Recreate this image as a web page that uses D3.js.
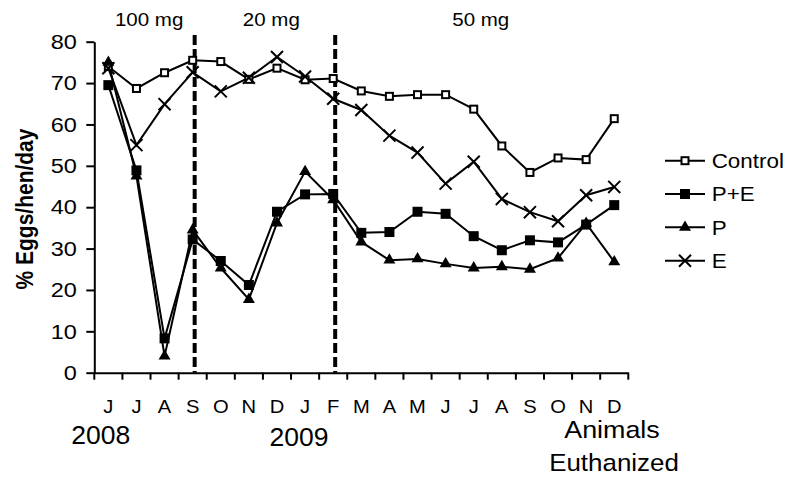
<!DOCTYPE html>
<html>
<head>
<meta charset="utf-8">
<script src="https://cdn.jsdelivr.net/npm/d3@7"></script>
<style>
  body { margin: 0; background: #fff; }
  svg { display: block; font-family: 'Liberation Sans', Arial, sans-serif; }
</style>
</head>
<body>
<script>
const months = ['J', 'J', 'A', 'S', 'O', 'N', 'D', 'J', 'F', 'M', 'A', 'M', 'J', 'J', 'A', 'S', 'O', 'N', 'D']
const yTicks = [0, 10, 20, 30, 40, 50, 60, 70, 80]
const seriesNames = ['Control', 'P+E', 'P', 'E']

const control = [74.0, 68.7, 72.5, 75.5, 75.2, 70.9, 73.6, 70.8, 71.1, 68.1, 66.8, 67.2, 67.2, 63.7, 54.8, 48.4, 51.9, 51.5, 61.4]
const pe = [69.5, 48.9, 8.3, 32.2, 27.0, 21.2, 38.9, 43.1, 43.2, 33.8, 34.0, 38.9, 38.4, 33.0, 29.6, 32.0, 31.5, 35.8, 40.5]
const p = [75.0, 47.5, 4.0, 34.5, 25.3, 17.7, 36.2, 48.6, 41.8, 31.6, 27.2, 27.5, 26.3, 25.3, 25.6, 25.0, 27.7, 36.1, 26.8]
const e = [73.6, 55.0, 64.9, 72.6, 68.0, 71.3, 76.3, 71.6, 66.2, 63.5, 57.3, 53.2, 45.7, 51.0, 42.0, 38.8, 36.6, 42.9, 44.9]

const doseLabels = ['100 mg', '20 mg', '50 mg']
const doseChanges = [3, 8]
const yearLabels = ['2008', '2009']

const w = 787
const h = 481
const SX = 1.12

const svg = d3.select('body')
  .append('svg')
  .attr('width', w)
  .attr('height', h)

const xScale = d3.scaleBand()
  .domain(d3.range(months.length))
  .range([94.3, 628.3])
  .padding(0)

const cx = (i) => xScale(i) + xScale.bandwidth() / 2
const step = xScale.step()

const yScale = d3.scaleLinear()
  .domain([0, 80])
  .range([372.7, 41.7])

const stretch = (sel, x, y, s = SX) => sel.attr('transform', `translate(${x},${y}) scale(${s},1)`)

// y axis
const yAxis = svg.append('g')
  .attr('transform', 'translate(94.3,0)')
  .call(d3.axisLeft(yScale).tickValues(yTicks).tickSize(8).tickSizeOuter(0).tickPadding(7.5))
yAxis.select('.domain').attr('stroke-width', 2)
yAxis.selectAll('.tick line').attr('stroke-width', 2)
yAxis.selectAll('.tick text')
  .attr('font-size', 21)
  .attr('fill', '#000')
  .attr('font-family', null)
  .attr('transform', `scale(${SX},1)`)

// x axis
const xAxis = svg.append('g')
  .attr('transform', `translate(0,${yScale(0)})`)
  .call(d3.axisBottom(xScale).tickSize(0).tickPadding(28).tickFormat(i => months[i]))
xAxis.select('.domain').attr('stroke-width', 2)
xAxis.selectAll('.tick text')
  .attr('font-size', 18)
  .attr('fill', '#000')
  .attr('font-family', null)
  .attr('transform', `scale(${SX},1)`)

const bounds = d3.range(months.length + 1).map(i => i < months.length ? xScale(i) : xScale.range()[1])
svg.append('g')
  .selectAll('line')
  .data(bounds)
  .enter()
  .append('line')
  .attr('x1', d => d)
  .attr('x2', d => d)
  .attr('y1', yScale(0))
  .attr('y2', yScale(0) + 7)
  .attr('stroke', '#000')
  .attr('stroke-width', 2)

// dose change lines
svg.append('g')
  .selectAll('line')
  .data(doseChanges)
  .enter()
  .append('line')
  .attr('x1', d => cx(d) + 2)
  .attr('x2', d => cx(d) + 2)
  .attr('y1', 35)
  .attr('y2', yScale(0))
  .attr('stroke', '#000')
  .attr('stroke-width', 4)
  .attr('stroke-dasharray', '10,4')

const dosePos = [1.95, 6.3, 13.75]
svg.append('g')
  .selectAll('text')
  .data(doseLabels)
  .enter()
  .append('text')
  .attr('text-anchor', 'middle')
  .attr('font-size', 19)
  .text(d => d)
  .each(function (d, i) { stretch(d3.select(this), xScale(0) + dosePos[i] * step, 26, 1.08) })

// series
const markers = {
  'Control': (g) => g.append('rect').attr('x', -3.5).attr('y', -3.5).attr('width', 7).attr('height', 7)
    .attr('fill', '#fff').attr('stroke', '#000').attr('stroke-width', 2),
  'P+E': (g) => g.append('rect').attr('x', -5).attr('y', -5).attr('width', 10).attr('height', 10).attr('fill', '#000'),
  'P': (g) => g.append('path').attr('d', d3.symbol(d3.symbolTriangle, 62)()).attr('fill', '#000'),
  'E': (g) => g.append('path').attr('d', d3.symbol(d3.symbolTimes, 96)()).attr('fill', 'none')
    .attr('stroke', '#000').attr('stroke-width', 2)
}

const seriesData = [control, pe, p, e]
const line = d3.line().x((d, i) => cx(i)).y(d => yScale(d))

seriesData.forEach((vals, k) => {
  svg.append('path')
    .datum(vals)
    .attr('d', line)
    .attr('fill', 'none')
    .attr('stroke', '#000')
    .attr('stroke-width', 2)
})

seriesData.forEach((vals, k) => {
  svg.append('g')
    .selectAll('g')
    .data(vals)
    .enter()
    .append('g')
    .attr('transform', (d, i) => `translate(${cx(i)},${yScale(d)})`)
    .each(function () { markers[seriesNames[k]](d3.select(this)) })
})

// legend
const legendY = [160.7, 194, 227.3, 260.7]
const legend = svg.append('g')
  .selectAll('g')
  .data(seriesNames)
  .enter()
  .append('g')
  .attr('transform', (d, i) => `translate(685,${legendY[i]})`)

legend.append('line')
  .attr('x1', -20)
  .attr('x2', 20)
  .attr('stroke', '#000')
  .attr('stroke-width', 2)
legend.each(function (d) { markers[d](d3.select(this)) })
legend.append('text')
  .attr('font-size', 20)
  .attr('dy', '0.36em')
  .text(d => d)
  .attr('transform', `translate(26.7,0) scale(${SX},1)`)

// y title
svg.append('text')
  .attr('text-anchor', 'middle')
  .attr('font-size', 21)
  .attr('font-weight', 'bold')
  .attr('dy', '0.35em')
  .text('% Eggs/hen/day')
  .attr('transform', `translate(25,209) scale(${SX},1) rotate(-90)`)

// year labels and note
const yearPos = [[-0.27, 444], [6.78, 446]]
svg.append('g')
  .selectAll('text')
  .data(yearLabels)
  .enter()
  .append('text')
  .attr('text-anchor', 'middle')
  .attr('font-size', 26)
  .text(d => d)
  .each(function (d, i) { stretch(d3.select(this), cx(0) + yearPos[i][0] * step, yearPos[i][1], 1.02) })

stretch(svg.append('text').attr('text-anchor', 'middle').attr('font-size', 24).text('Animals'), 612, 438, 1.12)
stretch(svg.append('text').attr('text-anchor', 'middle').attr('font-size', 24).text('Euthanized'), 614, 471, 1.08)
</script>
</body>
</html>
